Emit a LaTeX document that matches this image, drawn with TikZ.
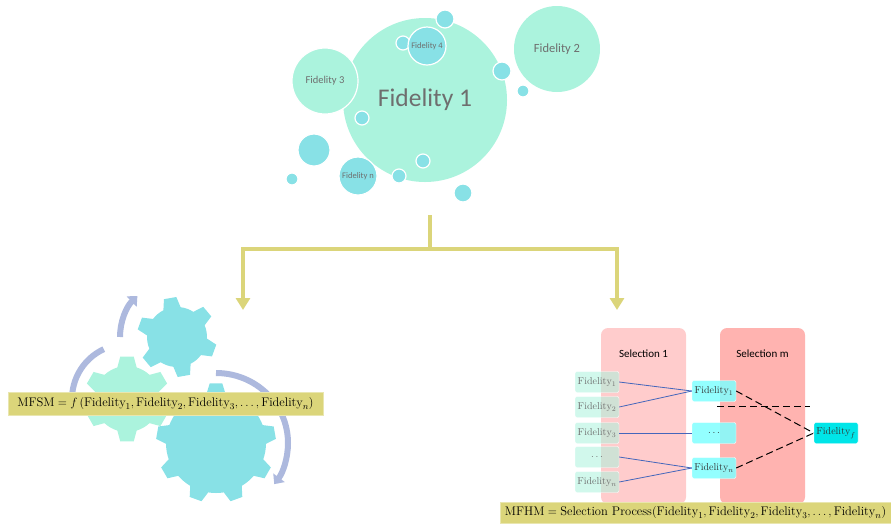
\documentclass[tikz,border=0pt]{standalone}
\usepackage{amsmath}
\usepackage{fontspec}
\newfontfamily\calib{Carlito}
\usepackage{tikz}
\usetikzlibrary{positioning,arrows.meta,shapes}

\definecolor{mint}{RGB}{171,243,221}
\definecolor{aqua}{RGB}{136,225,230}
\definecolor{mustard}{RGB}{219,213,122}
\definecolor{lavender}{RGB}{173,185,222}
\definecolor{pinkA}{RGB}{255,204,204}
\definecolor{pinkB}{RGB}{255,179,176}
\definecolor{linkblue}{RGB}{68,102,187}
\definecolor{softgray}{RGB}{110,110,110}
\definecolor{boxcyan}{RGB}{128,255,255}
\definecolor{finalcyan}{RGB}{0,229,232}

\begin{document}
\begin{tikzpicture}
[x=1pt,y=-1pt,
   bubble/.style={circle,inner sep=0pt,fill=mint,text=softgray},
   rim/.style={draw=white,line width=1.2pt},
   dot/.style={circle,inner sep=0pt,fill=aqua},
   feed/.style={draw=mustard,line width=4pt},
   feedarrow/.style={feed,-{Triangle[width=14pt,length=12pt]}},
   turn/.style={draw=lavender,line width=6pt},
   turnarrow/.style={turn,-{Triangle[width=14pt,length=8pt]}},
   column/.style={rounded corners=7pt,minimum width=85pt,minimum height=176pt,inner sep=0pt},
   coltitle/.style={font=\calib\fontsize{11}{13}\selectfont,text=black},
   candidate/.style={draw=white,rounded corners=2pt,fill=mint,fill opacity=0.55,text opacity=1,
      text=softgray,minimum width=44pt,minimum height=21pt,inner sep=0pt},
   chosen/.style={candidate,fill=boxcyan,fill opacity=0.85,text=black!80},
   formula/.style={fill=mustard,draw=mustard!60,inner sep=0pt,font=\fontsize{12.5}{14}\selectfont},
   link/.style={draw=linkblue,line width=0.8pt},
   vote/.style={draw=black,line width=1pt,dash pattern=on 7pt off 4pt}]

\useasboundingbox (0,0) rectangle (891,523);

% bubbles
\node[bubble,minimum size=164pt,font=\calib\fontsize{25.5}{30}\selectfont] (fid1) at (425,100) {Fidelity 1};
\node[bubble,minimum size=86pt,font=\calib\fontsize{12.5}{15}\selectfont] (fid2) at (557,49) {Fidelity 2};
\node[bubble,rim,minimum size=66pt,font=\calib\fontsize{10.5}{12}\selectfont] (fid3) at (325,81) {Fidelity 3};
\foreach \x/\y/\r [count=\k] in {403/43/7,445/19/9,502/71/9,523/91/6,362/118/7,423/161/7,399/176/7,463/193/9,314/150/16,292/179/6}
   \node[dot,rim,minimum size=\r*2pt] (drop\k) at (\x,\y) {};
\node[bubble,rim,fill=aqua,minimum size=38pt,font=\calib\fontsize{8.5}{10}\selectfont] (fid4) at (427,46) {Fidelity 4};
\node[bubble,rim,fill=aqua,minimum size=38pt,font=\calib\fontsize{8.5}{10}\selectfont] (fidn) at (358,176) {Fidelity n};

\coordinate (split) at (430,215);
\coordinate (fork) at (430,249);
\coordinate (toGears) at (243,310);
\coordinate (toSelect) at (617,310);
\draw[feed] (split) -- (fork);
\draw[feedarrow] (fork) -| (toGears);
\draw[feedarrow] (fork) -| (toSelect);

% gears
\foreach \cx/\cy/\R/\T/\n/\rot/\db/\dt/\col [count=\k] in
   {127/399/33/43/6/-90/17/9/mint, 177/337/30/40/6/-100/17/9/aqua, 216/443/50/60/9/-90/11/6/aqua}{
   \coordinate (gear\k) at (\cx,\cy);
   \pgfmathsetmacro\st{360/\n}
   \fill[\col,shift={(\cx,\cy)}] ({\rot+\db}:\R) \foreach \i in {1,...,\n}{
      arc[start angle=\rot+(\i-1)*\st+\db,end angle=\rot+\i*\st-\db,radius=\R]
      -- ({\rot+\i*\st-\dt}:\T) -- ({\rot+\i*\st+\dt}:\T) -- ({\rot+\i*\st+\db}:\R)} -- cycle;
}
\draw[turnarrow] ([shift={(180:57)}]gear2) arc[start angle=180,end angle=226,radius=57];
\draw[turn] ([shift={(245:55)}]gear1) arc[start angle=245,end angle=172,radius=55];
\draw[turnarrow] ([shift={(-90:70)}]gear3) arc[start angle=-90,end angle=36,x radius=72,y radius=70];

\node[formula,minimum width=315pt,minimum height=23pt] (mfsm) at (165.5,403.5)
   {$\mathrm{MFSM}=f\,(\mathrm{Fidelity}_1,\mathrm{Fidelity}_2,\mathrm{Fidelity}_3,\ldots,\mathrm{Fidelity}_n)$};

% selections
\node[column,fill=pinkA] (sel1) at (643.5,416) {};
\node[column,fill=pinkB] (selm) at (762.5,416) {};
\node[coltitle,below=19pt of sel1.north] (sel1 title) {Selection 1};
\node[coltitle,below=19pt of selm.north] (selm title) {Selection m};

\foreach \y/\t [count=\k] in {382/{$\mathrm{Fidelity}_1$},407/{$\mathrm{Fidelity}_2$},433/{$\mathrm{Fidelity}_3$},457/{$\ldots$},482/{$\mathrm{Fidelity}_n$}}
   \node[candidate] (cand\k) at (597,\y) {\t};
\node[chosen] (pick1) at (714,391) {$\mathrm{Fidelity}_1$};
\node[chosen] (pick2) at (714,433) {$\ldots$};
\node[chosen] (pick3) at (714,468) {$\mathrm{Fidelity}_n$};
\node[chosen,fill=finalcyan,fill opacity=1] (final) at (836,433) {$\mathrm{Fidelity}_f$};

\foreach \a/\b in {1/1,2/1,3/2,4/3,5/3}
   \draw[link] (cand\a.east) -- (pick\b.west);
\draw[vote] (pick1.east) -- (final.west);
\draw[vote] (pick3.east) -- (final.west);
\coordinate (cutL) at (717,406);
\coordinate (cutR) at (810,406);
\draw[vote] (cutL) -- (cutR);

\node[formula,minimum width=391pt,minimum height=21pt] (mfhm) at (695.5,512.5)
   {$\mathrm{MFHM}=\text{Selection Process}(\mathrm{Fidelity}_1,\mathrm{Fidelity}_2,\mathrm{Fidelity}_3,\ldots,\mathrm{Fidelity}_n)$};

\end{tikzpicture}
\end{document}
